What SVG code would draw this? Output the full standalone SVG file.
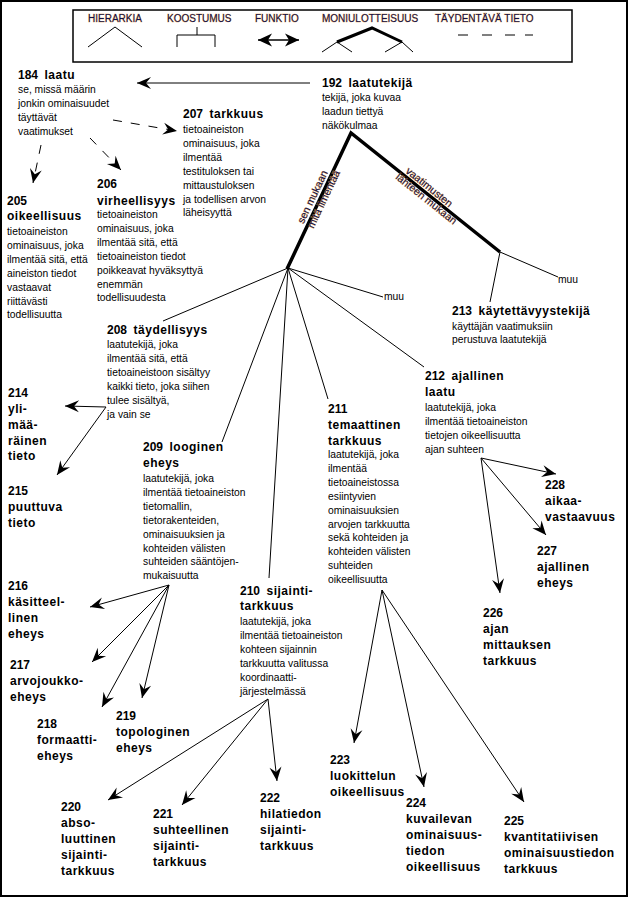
<svg xmlns="http://www.w3.org/2000/svg" width="629" height="898" viewBox="0 0 629 898">
<style>
text{font-family:"Liberation Sans",Arial,sans-serif;fill:#000}
.d{font-size:10.3px}
.t{font-size:12px;font-weight:bold;letter-spacing:0.5px}
.n{font-size:12px;font-weight:bold}
.lg{font-size:10px;fill:#10104a;stroke:#e8a040;stroke-width:0.5px;paint-order:stroke}
.rl{font-size:10.5px;fill:#10104a;stroke:#e8a040;stroke-width:0.5px;paint-order:stroke}
.ln{stroke:#000;stroke-width:1;fill:none}
.ar{marker-end:url(#ah)}
.dash{stroke-dasharray:9 9}
.thick{stroke:#000;stroke-width:3.5;fill:none;stroke-linejoin:miter}
</style>
<defs>
<marker id="ah" markerUnits="userSpaceOnUse" markerWidth="16" markerHeight="14" viewBox="0 0 16 14" refX="15" refY="7" orient="auto"><path d="M15,7 L1,1 L6,7 L1,13 Z" fill="#000"/></marker>
<marker id="ahb" markerUnits="userSpaceOnUse" markerWidth="16" markerHeight="14" viewBox="0 0 16 14" refX="15" refY="7" orient="auto-start-reverse"><path d="M15,7 L1,0.5 L5,7 L1,13.5 Z" fill="#000"/></marker>
</defs>
<rect x="1" y="1" width="626" height="895" fill="#fff" stroke="#000" stroke-width="2"/>

<g id="legend">
<rect x="73" y="10" width="499" height="52" fill="none" stroke="#000" stroke-width="1.5"/>
<text class="lg" x="88" y="22">HIERARKIA</text>
<text class="lg" x="167" y="22">KOOSTUMUS</text>
<text class="lg" x="255" y="22">FUNKTIO</text>
<text class="lg" x="322" y="22">MONIULOTTEISUUS</text>
<text class="lg" x="435" y="22">TÄYDENTÄVÄ TIETO</text>
<path class="ln" d="M88,47 L115,27 L142,47"/>
<path class="ln" d="M197,27 L197,35 M177,47 L177,35 L215,35 L215,47"/>
<path class="ln" d="M258,40 L299,40" style="stroke-width:1.5;marker-start:url(#ahb);marker-end:url(#ahb)"/>
<path class="thick" d="M337,42 L372,28 L402,42" style="stroke-width:3"/>
<path class="ln" d="M322,52 L337,42 L352,52 M385,52 L402,42 L413,52"/>
<path class="ln" d="M458,35 L468,35 M482,35 L492,35 M505,35 L515,35 M525,35 L533,35"/>
</g>

<g id="connectors">
<path class="ln ar" d="M310,83 L137,83"/>
<path class="ln ar dash" d="M113,120 L177,131"/>
<path class="ln ar dash" d="M90,138 L121,170"/>
<path class="ln ar dash" d="M41,145 L33,183"/>
<path class="thick" d="M287,269 L351,133 L500,252"/>
<path class="ln" d="M288,268 L163,321 M288,268 L222,442 M288,268 L269,578 M288,268 L328,399 M288,268 L424,367 M288,268 L383,297"/>
<path class="ln" d="M500,252 L490,302 M500,252 L558,277"/>
<path class="ln ar" d="M106,407 L65,406"/>
<path class="ln ar" d="M106,407 L57,475"/>
<path class="ln ar" d="M169,585 L90,607"/>
<path class="ln ar" d="M169,585 L92,662"/>
<path class="ln ar" d="M169,585 L102,707"/>
<path class="ln ar" d="M169,585 L142,698"/>
<path class="ln ar" d="M268,699 L108,800"/>
<path class="ln ar" d="M268,699 L182,805"/>
<path class="ln ar" d="M268,699 L277,781"/>
<path class="ln ar" d="M382,590 L354,743"/>
<path class="ln ar" d="M382,590 L424,787"/>
<path class="ln ar" d="M382,590 L524,802"/>
<path class="ln ar" d="M481,458 L556,474"/>
<path class="ln ar" d="M481,458 L546,535"/>
<path class="ln ar" d="M481,458 L500,593"/>
</g>

<g id="dimlabels">
<text class="rl" transform="translate(303.6,224.3) rotate(-64.8)"><tspan x="0" y="0">sen mukaan</tspan><tspan x="0" y="11">mitä ilmentää</tspan></text>
<text class="rl" transform="translate(404.9,172.2) rotate(38.6)"><tspan x="0" y="0">vaatimusten</tspan><tspan x="-4" y="11">lähteen mukaan</tspan></text>
<text class="d" x="384" y="300">muu</text>
<text class="d" x="558" y="283">muu</text>
</g>

<g id="n184">
<text x="18" y="79"><tspan class="n">184</tspan><tspan class="t" dx="6.5">laatu</tspan></text>
<text class="d"><tspan x="18" y="93">se, missä määrin</tspan><tspan x="18" y="106.9">jonkin ominaisuudet</tspan><tspan x="18" y="120.8">täyttävät</tspan><tspan x="18" y="134.7">vaatimukset</tspan></text>
</g>
<g id="n192">
<text x="322" y="87"><tspan class="n">192</tspan><tspan class="t" dx="6.5">laatutekijä</tspan></text>
<text class="d"><tspan x="322" y="101">tekijä, joka kuvaa</tspan><tspan x="322" y="114.9">laadun tiettyä</tspan><tspan x="322" y="128.8">näkökulmaa</tspan></text>
</g>
<g id="n207">
<text x="183" y="118"><tspan class="n">207</tspan><tspan class="t" dx="6.5">tarkkuus</tspan></text>
<text class="d"><tspan x="183" y="133">tietoaineiston</tspan><tspan x="183" y="146.9">ominaisuus, joka</tspan><tspan x="183" y="160.8">ilmentää</tspan><tspan x="183" y="174.7">testituloksen tai</tspan><tspan x="183" y="188.6">mittaustuloksen</tspan><tspan x="183" y="202.5">ja todellisen arvon</tspan><tspan x="183" y="216.4">läheisyyttä</tspan></text>
</g>
<g id="n205">
<text class="n" x="7" y="205">205</text>
<text class="t" x="7" y="220">oikeellisuus</text>
<text class="d"><tspan x="7" y="235">tietoaineiston</tspan><tspan x="7" y="248.9">ominaisuus, joka</tspan><tspan x="7" y="262.8">ilmentää sitä, että</tspan><tspan x="7" y="276.7">aineiston tiedot</tspan><tspan x="7" y="290.6">vastaavat</tspan><tspan x="7" y="304.5">riittävästi</tspan><tspan x="7" y="318.4">todellisuutta</tspan></text>
</g>
<g id="n206">
<text class="n" x="97" y="188">206</text>
<text class="t" x="97" y="205">virheellisyys</text>
<text class="d"><tspan x="97" y="218">tietoaineiston</tspan><tspan x="97" y="231.9">ominaisuus, joka</tspan><tspan x="97" y="245.8">ilmentää sitä, että</tspan><tspan x="97" y="259.7">tietoaineiston tiedot</tspan><tspan x="97" y="273.6">poikkeavat hyväksyttyä</tspan><tspan x="97" y="287.5">enemmän</tspan><tspan x="97" y="301.4">todellisuudesta</tspan></text>
</g>
<g id="n208">
<text x="107" y="334"><tspan class="n">208</tspan><tspan class="t" dx="6.5">täydellisyys</tspan></text>
<text class="d"><tspan x="107" y="348">laatutekijä, joka</tspan><tspan x="107" y="361.9">ilmentää sitä, että</tspan><tspan x="107" y="375.8">tietoaineistoon sisältyy</tspan><tspan x="107" y="389.7">kaikki tieto, joka siihen</tspan><tspan x="107" y="403.6">tulee sisältyä,</tspan><tspan x="107" y="417.5">ja vain se</tspan></text>
</g>
<g id="n209">
<text x="143" y="451"><tspan class="n">209</tspan><tspan class="t" dx="6.5">looginen</tspan></text>
<text class="t" x="143" y="467">eheys</text>
<text class="d"><tspan x="143" y="482">laatutekijä, joka</tspan><tspan x="143" y="495.9">ilmentää tietoaineiston</tspan><tspan x="143" y="509.8">tietomallin,</tspan><tspan x="143" y="523.7">tietorakenteiden,</tspan><tspan x="143" y="537.6">ominaisuuksien ja</tspan><tspan x="143" y="551.5">kohteiden välisten</tspan><tspan x="143" y="565.4">suhteiden sääntöjen-</tspan><tspan x="143" y="579.3">mukaisuutta</tspan></text>
</g>
<g id="n210">
<text x="240" y="595"><tspan class="n">210</tspan><tspan class="t" dx="6.5">sijainti-</tspan></text>
<text class="t" x="240" y="610">tarkkuus</text>
<text class="d"><tspan x="240" y="625">laatutekijä, joka</tspan><tspan x="240" y="638.9">ilmentää tietoaineiston</tspan><tspan x="240" y="652.8">kohteen sijainnin</tspan><tspan x="240" y="666.7">tarkkuutta valitussa</tspan><tspan x="240" y="680.6">koordinaatti-</tspan><tspan x="240" y="694.5">järjestelmässä</tspan></text>
</g>
<g id="n211">
<text class="n" x="328" y="413">211</text>
<text class="t" x="328" y="429">temaattinen</text>
<text class="t" x="328" y="445">tarkkuus</text>
<text class="d"><tspan x="328" y="458">laatutekijä, joka</tspan><tspan x="328" y="471.9">ilmentää</tspan><tspan x="328" y="485.8">tietoaineistossa</tspan><tspan x="328" y="499.7">esiintyvien</tspan><tspan x="328" y="513.6">ominaisuuksien</tspan><tspan x="328" y="527.5">arvojen tarkkuutta</tspan><tspan x="328" y="541.4">sekä kohteiden ja</tspan><tspan x="328" y="555.3">kohteiden välisten</tspan><tspan x="328" y="569.2">suhteiden</tspan><tspan x="328" y="583.1">oikeellisuutta</tspan></text>
</g>
<g id="n212">
<text x="425" y="380"><tspan class="n">212</tspan><tspan class="t" dx="6.5">ajallinen</tspan></text>
<text class="t" x="425" y="396">laatu</text>
<text class="d"><tspan x="425" y="411">laatutekijä, joka</tspan><tspan x="425" y="424.9">ilmentää tietoaineiston</tspan><tspan x="425" y="438.8">tietojen oikeellisuutta</tspan><tspan x="425" y="452.7">ajan suhteen</tspan></text>
</g>
<g id="n213">
<text x="452" y="315"><tspan class="n">213</tspan><tspan class="t" dx="6.5">käytettävyystekijä</tspan></text>
<text class="d"><tspan x="452" y="329.5">käyttäjän vaatimuksiin</tspan><tspan x="452" y="343.4">perustuva laatutekijä</tspan></text>
</g>
<g id="n214"><text class="n" x="8" y="397">214</text><text class="t"><tspan x="8" y="413">yli-</tspan><tspan x="8" y="428.8">mää-</tspan><tspan x="8" y="444.6">räinen</tspan><tspan x="8" y="460.4">tieto</tspan></text></g>
<g id="n215"><text class="n" x="8" y="495">215</text><text class="t"><tspan x="8" y="511">puuttuva</tspan><tspan x="8" y="527">tieto</tspan></text></g>
<g id="n216"><text class="n" x="8" y="590">216</text><text class="t"><tspan x="8" y="606">käsitteel-</tspan><tspan x="8" y="621.8">linen</tspan><tspan x="8" y="637.6">eheys</tspan></text></g>
<g id="n217"><text class="n" x="10" y="669">217</text><text class="t"><tspan x="10" y="685">arvojoukko-</tspan><tspan x="10" y="701">eheys</tspan></text></g>
<g id="n218"><text class="n" x="37" y="728">218</text><text class="t"><tspan x="37" y="744">formaatti-</tspan><tspan x="37" y="760">eheys</tspan></text></g>
<g id="n219"><text class="n" x="116" y="720">219</text><text class="t"><tspan x="116" y="736">topologinen</tspan><tspan x="116" y="752">eheys</tspan></text></g>
<g id="n220"><text class="n" x="61" y="811">220</text><text class="t"><tspan x="61" y="827">abso-</tspan><tspan x="61" y="843">luuttinen</tspan><tspan x="61" y="859">sijainti-</tspan><tspan x="61" y="875">tarkkuus</tspan></text></g>
<g id="n221"><text class="n" x="153" y="818">221</text><text class="t"><tspan x="153" y="834">suhteellinen</tspan><tspan x="153" y="850">sijainti-</tspan><tspan x="153" y="866">tarkkuus</tspan></text></g>
<g id="n222"><text class="n" x="260" y="802">222</text><text class="t"><tspan x="260" y="818">hilatiedon</tspan><tspan x="260" y="834">sijainti-</tspan><tspan x="260" y="850">tarkkuus</tspan></text></g>
<g id="n223"><text class="n" x="330" y="764">223</text><text class="t"><tspan x="330" y="780">luokittelun</tspan><tspan x="330" y="796">oikeellisuus</tspan></text></g>
<g id="n224"><text class="n" x="406" y="807">224</text><text class="t"><tspan x="406" y="823">kuvailevan</tspan><tspan x="406" y="839">ominaisuus-</tspan><tspan x="406" y="855">tiedon</tspan><tspan x="406" y="871">oikeellisuus</tspan></text></g>
<g id="n225"><text class="n" x="504" y="825">225</text><text class="t"><tspan x="504" y="841">kvantitatiivisen</tspan><tspan x="504" y="857">ominaisuustiedon</tspan><tspan x="504" y="873">tarkkuus</tspan></text></g>
<g id="n226"><text class="n" x="483" y="617">226</text><text class="t"><tspan x="483" y="633">ajan</tspan><tspan x="483" y="649">mittauksen</tspan><tspan x="483" y="665">tarkkuus</tspan></text></g>
<g id="n227"><text class="n" x="537" y="555">227</text><text class="t"><tspan x="537" y="571">ajallinen</tspan><tspan x="537" y="587">eheys</tspan></text></g>
<g id="n228"><text class="n" x="545" y="489">228</text><text class="t"><tspan x="545" y="505">aikaa-</tspan><tspan x="545" y="521">vastaavuus</tspan></text></g>
</svg>
